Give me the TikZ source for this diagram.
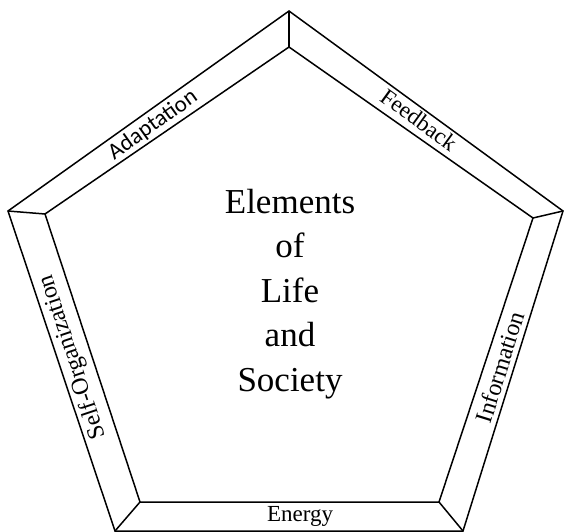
\documentclass[tikz,border=0pt]{standalone}
\usepackage{fontspec}
\setmainfont{Liberation Serif}
\newfontfamily\calibrifont{Carlito}
\begin{document}
\begin{tikzpicture}[x=1pt,y=-1pt,
  edge/.style={draw=black,line width=1.5pt,line join=miter},
  serlabel/.style={font=\fontsize{23}{23}\selectfont,inner sep=0pt},
  biglabel/.style={font=\fontsize{24}{24}\selectfont,inner sep=0pt},
  sanlabel/.style={font=\calibrifont\fontsize{23}{23}\selectfont,inner sep=0pt},
  centertext/.style={font=\fontsize{35}{44.5}\selectfont,align=center,inner sep=0pt}]
\useasboundingbox (0,0) rectangle (565,532);
% outer pentagon
\coordinate (O1) at (289,11);
\coordinate (O2) at (563,211);
\coordinate (O3) at (463,531);
\coordinate (O4) at (115,531);
\coordinate (O5) at (8,211);
% inner pentagon
\coordinate (I1) at (289,47);
\coordinate (I2) at (533,218);
\coordinate (I3) at (439,502);
\coordinate (I4) at (140,502);
\coordinate (I5) at (45,214);
\draw[edge] (O1) -- (O2) -- (O3) -- (O4) -- (O5) -- cycle;
\draw[edge] (I1) -- (I2) -- (I3) -- (I4) -- (I5) -- cycle;
\draw[edge] (O1) -- (I1);
\draw[edge] (O2) -- (I2);
\draw[edge] (O3) -- (I3);
\draw[edge] (O4) -- (I4);
\draw[edge] (O5) -- (I5);
% labels
\node[sanlabel,rotate=35.4] (adapt) at (153,125) {Adaptation};
\node[serlabel,rotate=-36] (feed) at (419,120) {Feedback};
\node[biglabel,rotate=72.6] (info) at (500,367) {Information};
\node[biglabel,rotate=108.5] (self) at (73,357) {Self-Organization};
\node[serlabel] (energy) at (300,516) {Energy};
\node[centertext] (center) at (290,294) {Elements\\of\\Life\\and\\Society};
\end{tikzpicture}
\end{document}
